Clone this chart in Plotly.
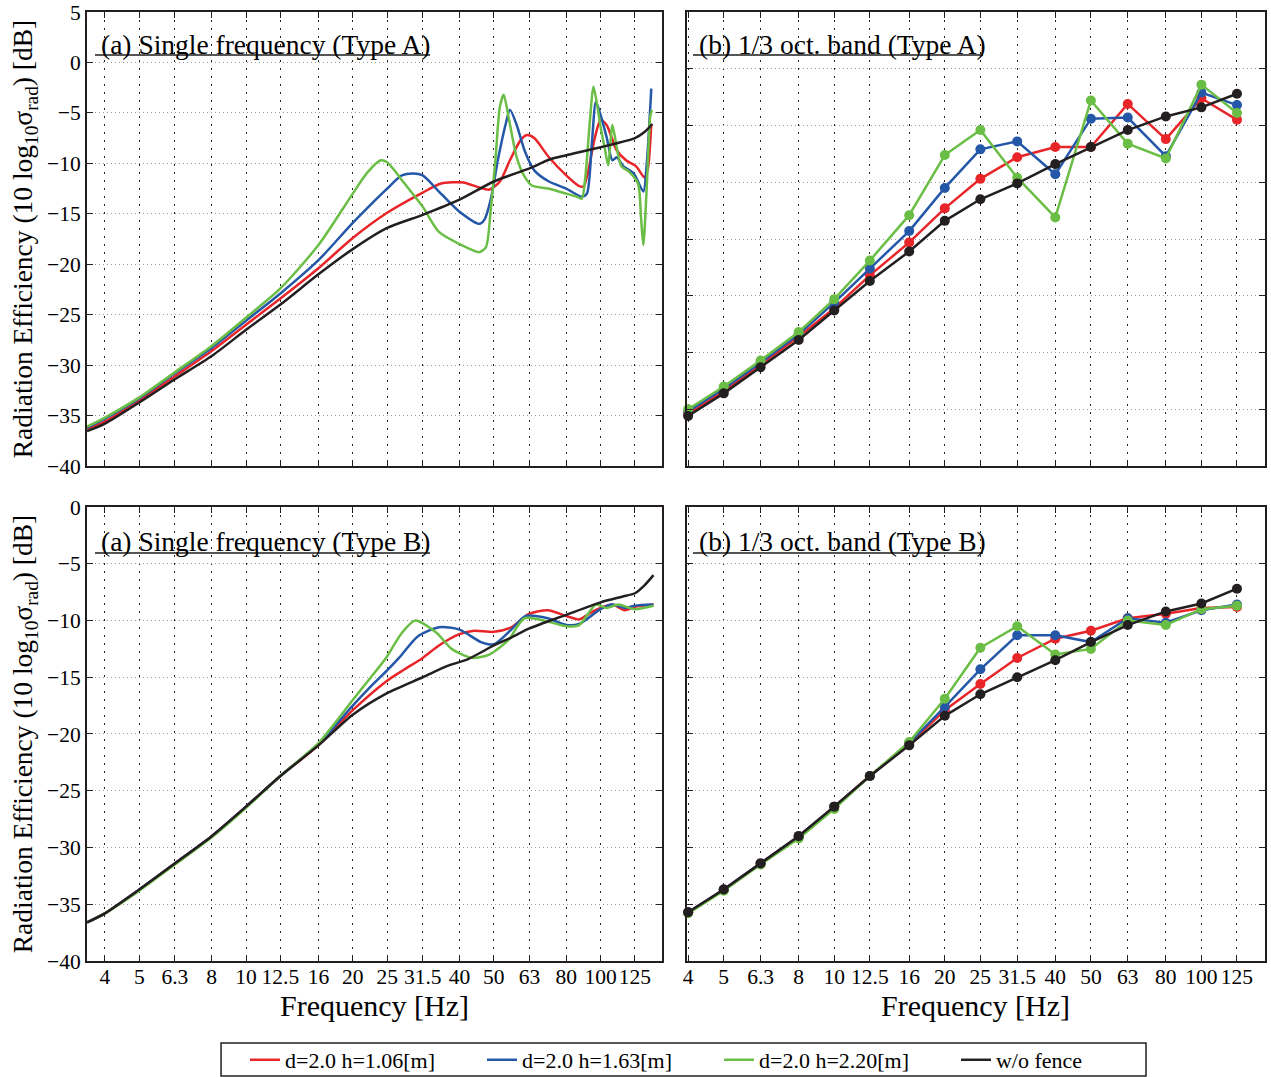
import plotly.graph_objects as go

# ---- 1/3-octave band centre frequencies and tick labels ----
BAND_FREQS = [4, 5, 6.3, 8, 10, 12.5, 16, 20, 25, 31.5, 40, 50, 63, 80, 100, 125]
BAND_LABELS = ['4', '5', '6.3', '8', '10', '12.5', '16', '20', '25', '31.5',
               '40', '50', '63', '80', '100', '125']

SERIES_NAMES = ['d=2.0 h=1.06[m]', 'd=2.0 h=1.63[m]', 'd=2.0 h=2.20[m]', 'w/o fence']
COLORS = ['#E8262A', '#2457A8', '#6BBE45', '#231F20']

# ---- Type A, single frequency ----
a_red_f = [3.56, 4, 5, 6.3, 8, 10, 12.5, 16, 20, 25, 31.5, 35.5, 41, 45.5, 48.6, 52, 55.5,
           59.5, 62, 65, 71.5, 80, 86.5, 89.5, 92, 96, 100, 104, 111, 118, 126, 133, 136, 139]
a_red_v = [-36.3, -35.6, -33.5, -31.1, -28.6, -26.0, -23.4, -20.4, -17.4, -14.9, -12.9, -12.0,
           -11.9, -12.4, -12.6, -11.8, -9.7, -7.7, -7.2, -7.5, -9.4, -11.2, -12.2, -12.3, -11.0,
           -7.7, -5.7, -6.2, -8.7, -9.7, -10.3, -11.4, -10.5, -6.1]

a_blue_f = [3.56, 4, 5, 6.3, 8, 10, 12.5, 16, 20, 25, 27.5, 29.6, 31.5, 35, 40, 45.5, 47, 49,
            51.3, 54, 55.5, 58, 61, 65, 71.5, 80, 88.5, 91.5, 94.5, 97, 100, 104, 108, 111,
            116, 124, 132, 135, 139]
a_blue_v = [-36.2, -35.3, -33.3, -30.8, -28.3, -25.6, -22.9, -19.6, -15.9, -12.5, -11.2, -11.0,
            -11.2, -12.8, -14.8, -16.0, -15.6, -13.6, -9.7, -6.1, -4.7, -6.2, -8.7, -10.7,
            -11.8, -12.5, -13.3, -13.0, -8.0, -3.9, -5.2, -7.4, -9.7, -9.4, -10.3, -11.0,
            -12.8, -10.0, -2.6]

a_green_f = [3.56, 4, 5, 6.3, 8, 10, 12.5, 16, 20, 22, 24, 25, 28, 31.5, 35, 40, 45.5, 47.5,
             49, 50.5, 52, 53.3, 55, 58, 61, 64, 71, 80, 85.5, 88.5, 90.6, 93, 95.5, 98, 100,
             103, 105, 108, 111, 114.5, 120, 127.5, 130, 132, 135, 138, 139.5]
a_green_v = [-36.1, -35.2, -33.2, -30.7, -28.1, -25.3, -22.4, -18.1, -13.0, -10.9, -9.7, -9.9,
             -12.0, -14.3, -16.8, -18.0, -18.8, -18.3, -14.6, -9.7, -4.4, -3.2, -5.4, -9.4,
             -11.3, -12.2, -12.5, -13.0, -13.3, -13.5, -11.3, -6.4, -2.4, -4.4, -6.4, -8.7,
             -10.2, -6.2, -8.4, -10.3, -10.8, -12.0, -15.3, -18.1, -12.3, -5.4, -4.7]

a_black_f = [3.56, 4, 5, 6.3, 8, 10, 12.5, 16, 20, 25, 31.5, 40, 50, 63, 72, 80, 100, 125,
             133, 140]
a_black_v = [-36.55, -35.8, -33.7, -31.4, -29.1, -26.5, -24.0, -21.0, -18.5, -16.4, -15.1,
             -13.6, -11.8, -10.5, -9.6, -9.2, -8.4, -7.5, -6.9, -6.1]

# ---- Type A, 1/3 octave band ----
a_band_red = [-35.4, -33.4, -31.1, -28.6, -26.1, -23.2, -20.3, -17.3, -14.7, -12.8, -11.9,
              -11.9, -8.1, -11.2, -7.6, -9.5]
a_band_blue = [-35.2, -33.2, -30.9, -28.4, -25.6, -22.6, -19.3, -15.5, -12.1, -11.4, -14.3,
               -9.4, -9.3, -12.7, -7.1, -8.2]
a_band_green = [-35.0, -33.0, -30.7, -28.2, -25.3, -21.9, -17.9, -12.6, -10.4, -14.6, -18.1,
                -7.8, -11.6, -12.9, -6.4, -8.9]
a_band_black = [-35.6, -33.6, -31.3, -28.9, -26.3, -23.7, -21.1, -18.4, -16.5, -15.1, -13.4,
                -11.9, -10.4, -9.2, -8.4, -7.2]

# ---- Type B, single frequency ----
b_red_f = [3.56, 4, 5, 6.3, 8, 10, 12.5, 16, 20, 25, 28, 31.5, 35, 40, 44, 50, 56, 63, 71,
           80, 87, 94, 100, 108, 117, 125, 141]
b_red_v = [-36.6, -35.8, -33.7, -31.4, -29.0, -26.4, -23.7, -21.0, -17.9, -15.3, -14.3, -13.3,
           -12.2, -11.2, -10.9, -11.0, -10.6, -9.4, -9.1, -9.6, -9.9, -9.3, -8.9, -8.6, -9.1,
           -8.8, -8.6]

b_blue_f = [3.56, 4, 5, 6.3, 8, 10, 12.5, 16, 20, 23, 25, 27, 30.5, 35, 40, 46, 50, 56, 61.5,
            71, 80, 87, 100, 108, 117, 125, 141]
b_blue_v = [-36.6, -35.8, -33.7, -31.4, -29.0, -26.4, -23.7, -20.9, -17.5, -15.5, -14.4, -13.3,
            -11.4, -10.6, -10.8, -11.9, -12.1, -10.8, -9.6, -9.8, -10.4, -10.3, -9.0, -8.6,
            -8.9, -8.7, -8.6]

b_green_f = [3.56, 4, 5, 6.3, 8, 10, 12.5, 16, 20, 22.5, 24.7, 27.5, 30, 34.5, 38, 43.5, 48.5,
             55, 61, 71, 80, 87, 97, 104, 112, 125, 141]
b_green_v = [-36.6, -35.8, -33.8, -31.5, -29.1, -26.5, -23.7, -20.8, -17.0, -15.0, -13.4,
             -11.1, -10.0, -11.1, -12.5, -13.3, -13.0, -11.7, -9.8, -10.1, -10.5, -10.4, -8.6,
             -8.9, -8.6, -9.0, -8.7]

b_black_f = [3.56, 4, 5, 6.3, 8, 10, 12.5, 16, 20, 25, 31.5, 37, 42.3, 50, 56, 63, 80, 100,
             115, 125, 133, 141]
b_black_v = [-36.6, -35.8, -33.7, -31.4, -29.0, -26.4, -23.7, -21.0, -18.3, -16.4, -15.0,
             -14.0, -13.4, -12.2, -11.5, -10.7, -9.5, -8.4, -7.9, -7.6, -6.9, -6.0]

# ---- Type B, 1/3 octave band ----
b_band_red = [-35.7, -33.7, -31.4, -29.0, -26.4, -23.7, -20.9, -17.9, -15.6, -13.3, -11.6,
              -10.9, -9.8, -9.4, -8.9, -8.8]
b_band_blue = [-35.7, -33.7, -31.4, -29.0, -26.4, -23.7, -20.8, -17.6, -14.3, -11.3, -11.3,
               -11.9, -9.8, -10.2, -9.1, -8.6]
b_band_green = [-35.8, -33.8, -31.5, -29.2, -26.6, -23.7, -20.7, -16.9, -12.4, -10.5, -13.0,
                -12.5, -10.0, -10.4, -9.0, -8.7]
b_band_black = [-35.7, -33.7, -31.4, -29.0, -26.4, -23.7, -21.0, -18.4, -16.5, -15.0, -13.5,
                -11.9, -10.4, -9.2, -8.5, -7.2]

FONT = 'Liberation Serif'
LINE_W = 2.5

fig = go.Figure()

single_A = [(a_red_f, a_red_v), (a_blue_f, a_blue_v), (a_green_f, a_green_v), (a_black_f, a_black_v)]
single_B = [(b_red_f, b_red_v), (b_blue_f, b_blue_v), (b_green_f, b_green_v), (b_black_f, b_black_v)]
band_A = [a_band_red, a_band_blue, a_band_green, a_band_black]
band_B = [b_band_red, b_band_blue, b_band_green, b_band_black]

for i, (f, v) in enumerate(single_A):
    fig.add_trace(go.Scatter(x=f, y=v, mode='lines', name=SERIES_NAMES[i],
                             line=dict(color=COLORS[i], width=LINE_W, shape='spline', smoothing=0.7),
                             xaxis='x', yaxis='y', showlegend=True))
for i, v in enumerate(band_A):
    fig.add_trace(go.Scatter(x=BAND_FREQS, y=v, mode='lines+markers', name=SERIES_NAMES[i],
                             line=dict(color=COLORS[i], width=LINE_W),
                             marker=dict(color=COLORS[i], size=10),
                             cliponaxis=False, xaxis='x2', yaxis='y2', showlegend=False))
for i, (f, v) in enumerate(single_B):
    fig.add_trace(go.Scatter(x=f, y=v, mode='lines', name=SERIES_NAMES[i],
                             line=dict(color=COLORS[i], width=LINE_W, shape='spline', smoothing=0.7),
                             xaxis='x3', yaxis='y3', showlegend=False))
for i, v in enumerate(band_B):
    fig.add_trace(go.Scatter(x=BAND_FREQS, y=v, mode='lines+markers', name=SERIES_NAMES[i],
                             line=dict(color=COLORS[i], width=LINE_W),
                             marker=dict(color=COLORS[i], size=10),
                             cliponaxis=False, xaxis='x4', yaxis='y4', showlegend=False))

tick_font = dict(family=FONT, size=21.5, color='black')

def x_axis(domain, anchor, rng, labels):
    return dict(domain=domain, anchor=anchor, type='log', range=rng,
                tickvals=BAND_FREQS, ticktext=BAND_LABELS, showticklabels=labels,
                tickfont=tick_font, showgrid=True, gridcolor='#222', gridwidth=1,
                griddash='2px,6px', showline=True, linecolor='#231F20', linewidth=2,
                mirror='ticks', ticks='inside', ticklen=6, tickcolor='#231F20',
                zeroline=False, tickangle=0, ticklabelstandoff=-5)

def y_axis(domain, anchor, rng, labels, title=None):
    ax = dict(domain=domain, anchor=anchor, range=rng, dtick=5, tick0=0,
              showticklabels=labels, tickfont=tick_font, showgrid=True,
              gridcolor='#9a9a9a', gridwidth=1, griddash='1px,3px', showline=True,
              linecolor='#231F20', linewidth=2, mirror='ticks', ticks='inside', ticklen=6,
              tickcolor='#231F20', zeroline=False, ticklabeloverflow='allow')
    if title:
        ax['title'] = dict(text=title, font=dict(family=FONT, size=27.5, color='black'), standoff=6)
    return ax

LEFT = [0, 0.4881]
RIGHT = [0.5093, 1]
TOP = [0.5216, 1]
BOT = [0, 0.4784]
XR_L = [0.5514, 2.1732]
XR_R = [0.5988, 2.1732]
YTITLE = 'Radiation Efficiency (10 log<sub>10</sub>σ<sub>rad</sub>) [dB]'

fig.update_layout(
    width=1271, height=1077,
    margin=dict(l=87, r=6, t=12, b=116, autoexpand=False),
    paper_bgcolor='white', plot_bgcolor='white',
    font=dict(family=FONT, color='black'),
    xaxis=x_axis(LEFT, 'y', XR_L, False),
    yaxis=y_axis(TOP, 'x', [-40, 5], True, YTITLE),
    xaxis2=x_axis(RIGHT, 'y2', XR_R, False),
    yaxis2=y_axis(TOP, 'x2', [-40, 0], False),
    xaxis3=x_axis(LEFT, 'y3', XR_L, True),
    yaxis3=y_axis(BOT, 'x3', [-40, 0], True, YTITLE),
    xaxis4=x_axis(RIGHT, 'y4', XR_R, True),
    yaxis4=y_axis(BOT, 'x4', [-40, 0], False),
    legend=dict(orientation='h', x=0.1341, xanchor='left', y=-0.1043, yanchor='middle',
                borderwidth=0, bgcolor='rgba(0,0,0,0)',
                font=dict(family=FONT, size=22, color='black'),
                entrywidth=192, entrywidthmode='pixels', tracegroupgap=0),
    showlegend=True,
)

# legend frame
fig.add_shape(type='rect', xref='paper', yref='paper', x0=0.1138, x1=0.899,
              y0=-0.1212, y1=-0.0864, line=dict(color='#231F20', width=1.5),
              fillcolor='rgba(0,0,0,0)', layer='below')

# frequency axis titles
for xa in ('x3', 'x4'):
    fig.add_annotation(text='Frequency [Hz]', xref=f'{xa} domain', yref='paper',
                       x=0.5, y=-0.0465, xanchor='center', yanchor='middle', showarrow=False,
                       font=dict(family=FONT, size=30, color='black'))

# panel captions with underline
captions = [
    ('(a) Single frequency (Type A)', 'x', 'y', 0.021, 0.9295, 0.0139, 0.5965, 0.9053),
    ('(b) 1/3 oct. band (Type A)', 'x2', 'y2', 0.0173, 0.9295, 0.0104, 0.512, 0.9053),
    ('(a) Single frequency (Type B)', 'x3', 'y3', 0.021, 0.923, 0.0139, 0.5965, 0.8987),
    ('(b) 1/3 oct. band (Type B)', 'x4', 'y4', 0.0173, 0.923, 0.0104, 0.512, 0.8987),
]
for text, xa, ya, tx, ty, lx0, lx1, ly in captions:
    fig.add_annotation(text=text, xref=f'{xa} domain', yref=f'{ya} domain', x=tx, y=ty,
                       xanchor='left', yanchor='middle', showarrow=False,
                       font=dict(family=FONT, size=27.5, color='black'))
    fig.add_shape(type='line', xref=f'{xa} domain', yref=f'{ya} domain',
                  x0=lx0, x1=lx1, y0=ly, y1=ly, line=dict(color='#555', width=2))

fig.write_html('out.html')
